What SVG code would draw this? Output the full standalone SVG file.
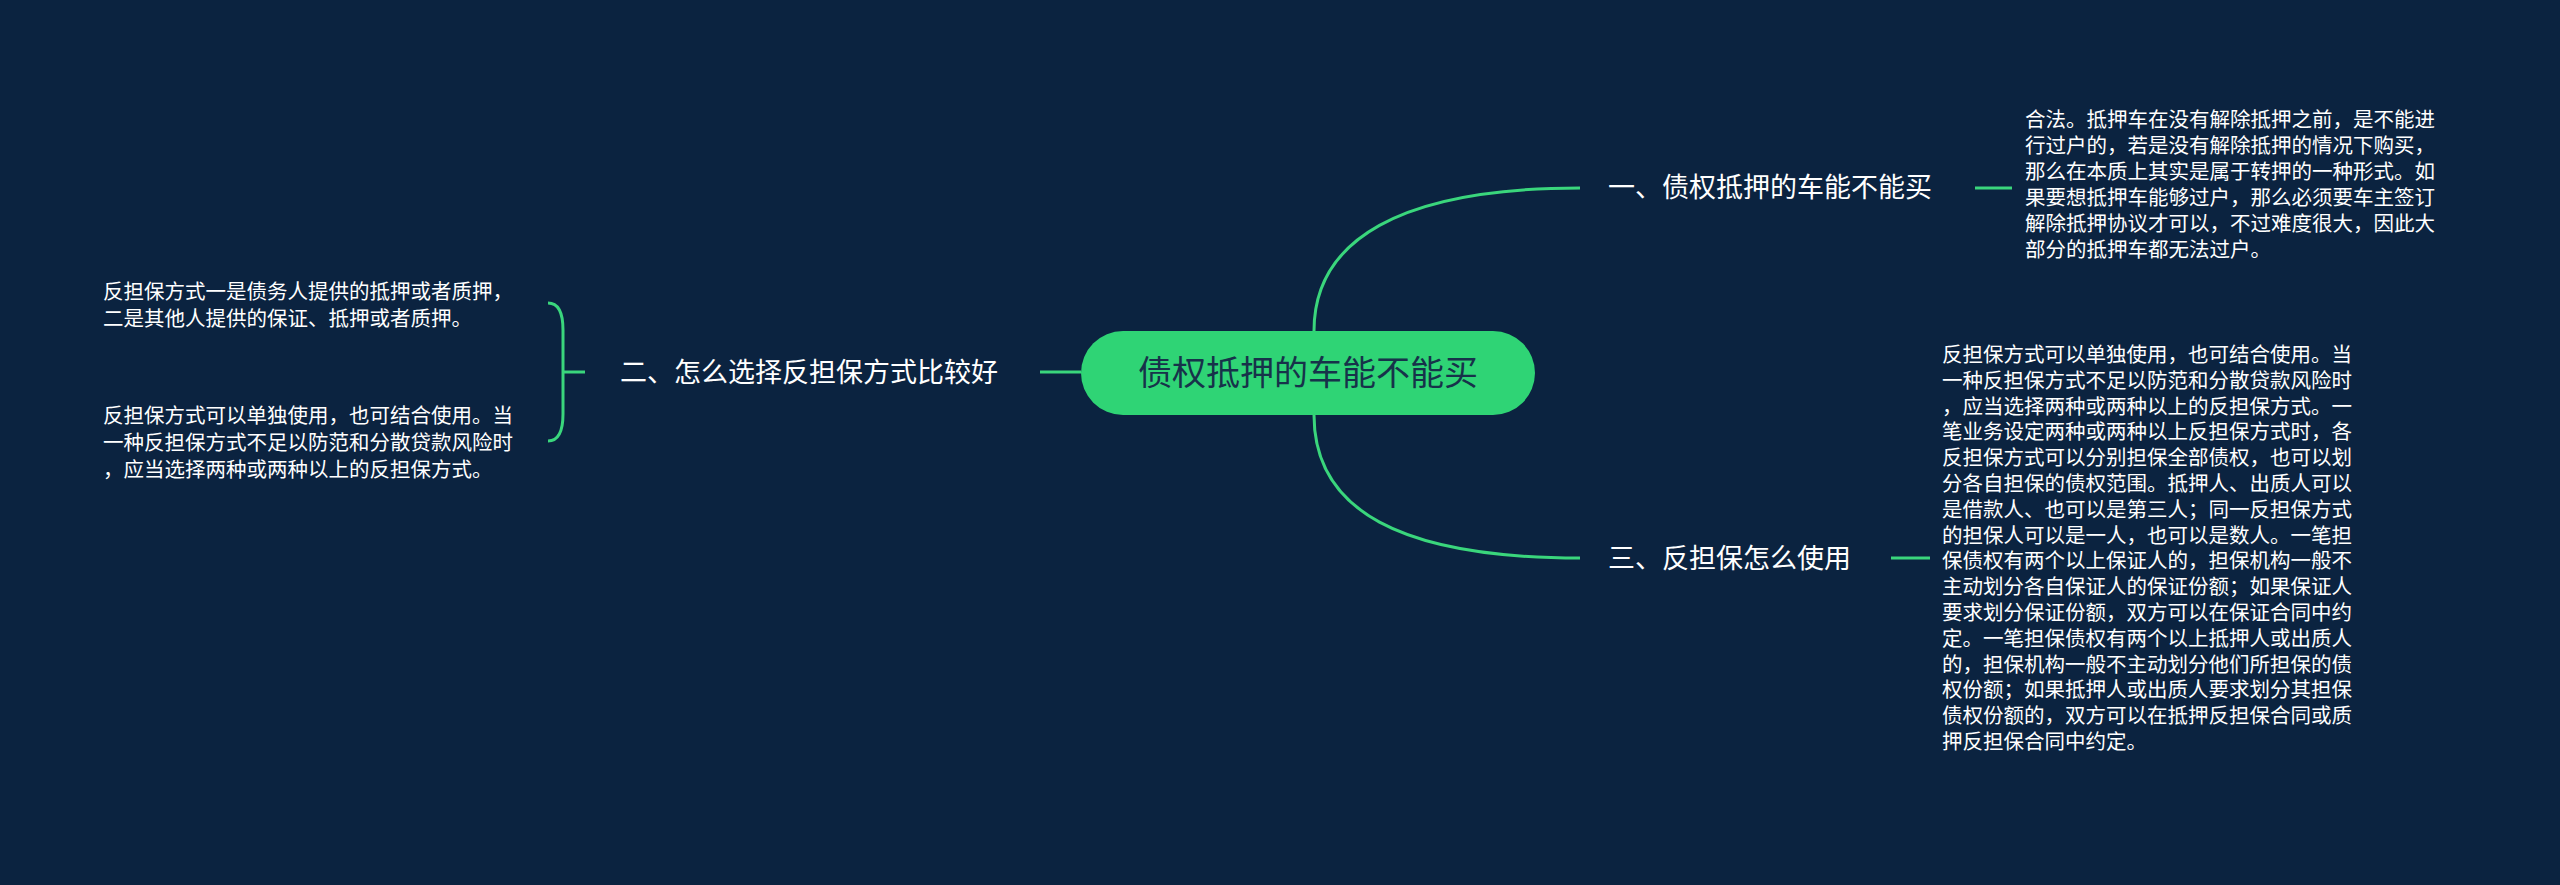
<svg xmlns="http://www.w3.org/2000/svg" width="2560" height="885" viewBox="0 0 2560 885">
<style>
.l{fill:none;stroke:#3ad67c;stroke-width:3}
.t{font-family:"Noto Sans CJK SC",sans-serif;fill:#ffffff}
.b{font-size:27px}
.s{font-size:20.5px}
</style>
<rect width="2560" height="885" fill="#0b2340"/>
<g id="connectors">
<path class="l" d="M1314,331 C1314,240 1400,188 1580,188"/>
<path class="l" d="M1314,415 C1314,510 1400,558 1580,558"/>
<path class="l" d="M1040,372 L1081,372"/>
<path class="l" d="M1975,188 L2012,188"/>
<path class="l" d="M1891,558 L1930,558"/>
<path class="l" d="M548,303 Q563,303 563,330 L563,414 Q563,441 548,441 M563,372 L585,372"/>
</g>
<g id="center">
<rect x="1081" y="331" width="454" height="84" rx="42" fill="#2fd475"/>
<text x="1308" y="385" text-anchor="middle" font-family="Noto Sans CJK SC,sans-serif" font-size="34" fill="#17324a">债权抵押的车能不能买</text>
</g>
<g id="b1"><text class="t b" x="1608" y="197">一、债权抵押的车能不能买</text></g>
<g id="b2"><text class="t b" x="620" y="382">二、怎么选择反担保方式比较好</text></g>
<g id="b3"><text class="t b" x="1608" y="568">三、反担保怎么使用</text></g>
<g id="leaf1"><text class="t s" x="2025">
<tspan x="2025" y="127">合法。抵押车在没有解除抵押之前，是不能进</tspan>
<tspan x="2025" y="153">行过户的，若是没有解除抵押的情况下购买，</tspan>
<tspan x="2025" y="179">那么在本质上其实是属于转押的一种形式。如</tspan>
<tspan x="2025" y="205">果要想抵押车能够过户，那么必须要车主签订</tspan>
<tspan x="2025" y="231">解除抵押协议才可以，不过难度很大，因此大</tspan>
<tspan x="2025" y="257">部分的抵押车都无法过户。</tspan>
</text></g>
<g id="leaf3"><text class="t s">
<tspan x="1942" y="362">反担保方式可以单独使用，也可结合使用。当</tspan>
<tspan x="1942" y="388">一种反担保方式不足以防范和分散贷款风险时</tspan>
<tspan x="1942" y="414">，应当选择两种或两种以上的反担保方式。一</tspan>
<tspan x="1942" y="439">笔业务设定两种或两种以上反担保方式时，各</tspan>
<tspan x="1942" y="465">反担保方式可以分别担保全部债权，也可以划</tspan>
<tspan x="1942" y="491">分各自担保的债权范围。抵押人、出质人可以</tspan>
<tspan x="1942" y="517">是借款人、也可以是第三人；同一反担保方式</tspan>
<tspan x="1942" y="543">的担保人可以是一人，也可以是数人。一笔担</tspan>
<tspan x="1942" y="568">保债权有两个以上保证人的，担保机构一般不</tspan>
<tspan x="1942" y="594">主动划分各自保证人的保证份额；如果保证人</tspan>
<tspan x="1942" y="620">要求划分保证份额，双方可以在保证合同中约</tspan>
<tspan x="1942" y="646">定。一笔担保债权有两个以上抵押人或出质人</tspan>
<tspan x="1942" y="672">的，担保机构一般不主动划分他们所担保的债</tspan>
<tspan x="1942" y="697">权份额；如果抵押人或出质人要求划分其担保</tspan>
<tspan x="1942" y="723">债权份额的，双方可以在抵押反担保合同或质</tspan>
<tspan x="1942" y="749">押反担保合同中约定。</tspan>
</text></g>
<g id="leaf2a"><text class="t s">
<tspan x="103" y="299">反担保方式一是债务人提供的抵押或者质押，</tspan>
<tspan x="103" y="326">二是其他人提供的保证、抵押或者质押。</tspan>
</text></g>
<g id="leaf2b"><text class="t s">
<tspan x="103" y="423">反担保方式可以单独使用，也可结合使用。当</tspan>
<tspan x="103" y="450">一种反担保方式不足以防范和分散贷款风险时</tspan>
<tspan x="103" y="477">，应当选择两种或两种以上的反担保方式。</tspan>
</text></g>
</svg>
